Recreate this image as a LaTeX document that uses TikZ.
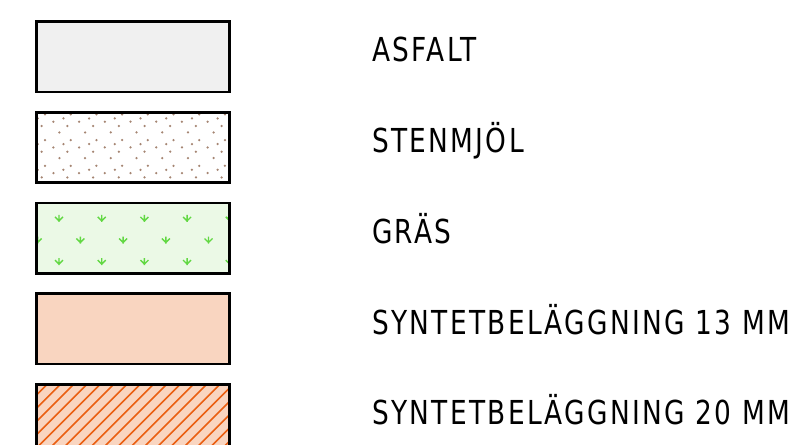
\documentclass[tikz,border=0pt]{standalone}
\usepackage{fontspec}
\newfontfamily\legendfont[FakeStretch=0.8, LetterSpace=7]{DejaVu Sans}
\definecolor{asfaltgra}{HTML}{F0F0F0}
\definecolor{stenprick}{HTML}{A58572}
\definecolor{grasbg}{HTML}{EBF9E6}
\definecolor{grastuva}{HTML}{62D843}
\definecolor{syntetbg}{HTML}{F9D5C0}
\definecolor{syntetlinje}{HTML}{EA5F12}
\tikzset{
  legendbox/.style={draw=black, line width=2.6pt},
  legendtext/.style={anchor=base west, inner sep=0pt,
    font=\legendfont\fontsize{33}{36}\selectfont},
}
\begin{document}
\begin{tikzpicture}[x=1pt, y=-1pt]
    \useasboundingbox (0,0) rectangle (802,444);

    % Asfalt
    \fill[asfaltgra] (36.7,21.5) rectangle (229.3,92);
    \draw[legendbox] (36.7,21.5) rectangle (229.3,92);
    \node[legendtext] (asfalt) at (372,62) {ASFALT};

    % Stenmjol
    \fill[white] (36.7,112.2) rectangle (229.3,182.7);
    \begin{scope}
        \clip (36.7,112.2) rectangle (229.3,182.7);
        \foreach \i in {-1,...,8}
            \foreach \j in {-1,...,3}
                \foreach \dx/\dy in {3.3/2.7, 21.7/6.7, 11.7/10, 0/14.3, 17.7/20.7}
                    \fill[stenprick] ({41.7+25.7*\i+\dx},{111.7+25.7*\j+\dy}) circle (1.25);
    \end{scope}
    \draw[legendbox] (36.7,112.2) rectangle (229.3,182.7);
    \node[legendtext] (stenmjol) at (372,152.7) {STENMJÖL};

    % Gras
    \fill[grasbg] (36.7,202.9) rectangle (229.3,273.4);
    \begin{scope}
        \clip (36.7,202.9) rectangle (229.3,273.4);
        \foreach \c in {0,...,4} {
            \foreach \y in {218.4,261.6}
                \draw[grastuva, line width=1.4pt] ({59+42.7*\c},{\y-3.5}) -- ({59+42.7*\c},{\y+3.5})
                    ({59+42.7*\c-4},{\y-1.5}) -- ({59+42.7*\c},{\y+2.5}) -- ({59+42.7*\c+4},{\y-1.5});
            \draw[grastuva, line width=1.4pt] ({37.7+42.7*\c},236.5) -- ({37.7+42.7*\c},243.5)
                ({37.7+42.7*\c-4},238.5) -- ({37.7+42.7*\c},242.5) -- ({37.7+42.7*\c+4},238.5);
        }
        \draw[grastuva, line width=1.4pt] (230.4,214.9) -- (230.4,221.9) (226.4,216.9) -- (230.4,220.9);
    \end{scope}
    \draw[legendbox] (36.7,202.9) rectangle (229.3,273.4);
    \node[legendtext] (gras) at (372,243.4) {GRÄS};

    % Syntetbelaggning 13 mm
    \fill[syntetbg] (36.7,293.6) rectangle (229.3,364.1);
    \draw[legendbox] (36.7,293.6) rectangle (229.3,364.1);
    \node[legendtext] (syntet13) at (372,334.1) {SYNTETBELÄGGNING 13 MM};

    % Syntetbelaggning 20 mm
    \fill[syntetbg] (36.7,384.3) rectangle (229.3,454.8);
    \begin{scope}
        \clip (36.7,384.3) rectangle (229.3,454.8);
        \foreach \k in {-8,...,24}
            \draw[syntetlinje, line width=1.6pt] ({431.4+13.3*\k-460},460) -- ({431.4+13.3*\k-380},380);
    \end{scope}
    \draw[legendbox] (36.7,384.3) rectangle (229.3,454.8);
    \node[legendtext] (syntet20) at (372,424.8) {SYNTETBELÄGGNING 20 MM};
\end{tikzpicture}
\end{document}
